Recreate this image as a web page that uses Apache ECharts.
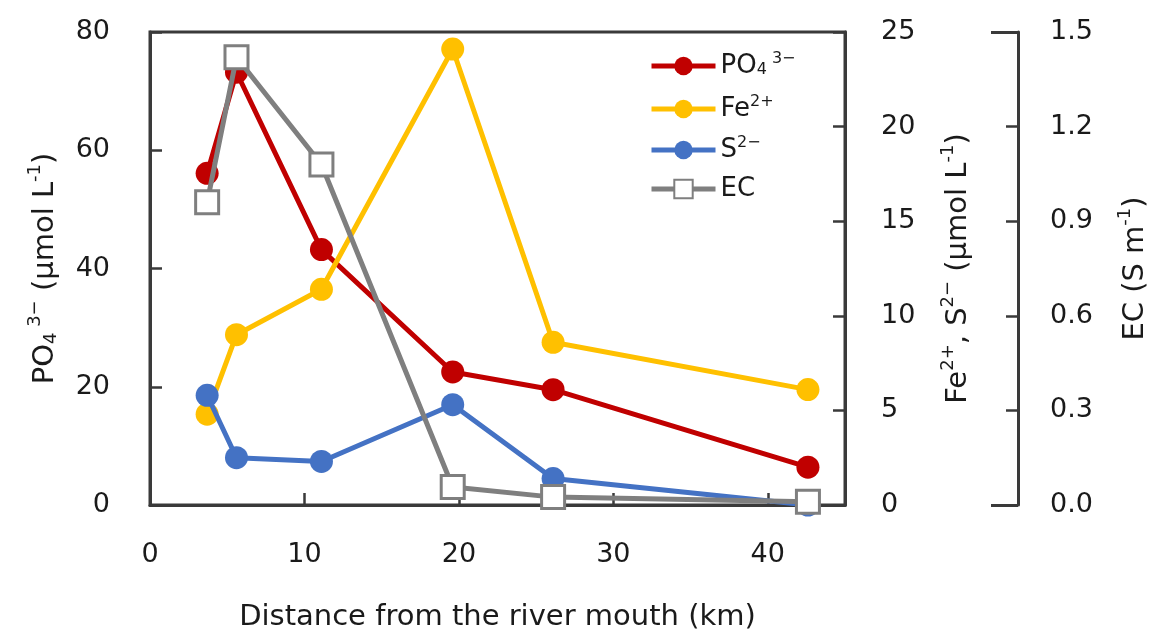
<!DOCTYPE html>
<html><head><meta charset="utf-8">
<script src="https://cdn.jsdelivr.net/npm/echarts@6/dist/echarts.min.js"></script>
<style>html,body{margin:0;padding:0;background:#fff}#c{width:1158px;height:635px}</style>
</head><body><div id="c"></div>
<script>
// Data
const distanceKm = [3.7, 5.6, 11.1, 19.6, 26.1, 42.6];
const po4 = [56.1, 73.2, 43.2, 22.5, 19.5, 6.4];        // µmol/L, left axis
const fe2 = [4.8, 9.0, 11.4, 24.1, 8.6, 6.1];           // µmol/L, right axis
const s2 = [5.8, 2.5, 2.3, 5.3, 1.4, 0.0];              // µmol/L, right axis
const ec = [0.96, 1.42, 1.08, 0.057, 0.025, 0.01];      // S/m, far right axis
const xTickLabels = [0, 10, 20, 30, 40];
const seriesNames = ['PO4', 'Fe', 'S', 'EC'];

const FONT = 'DejaVu Sans';
const TXT = '#1a1a1a';
const AX = '#3a3a3a';
const pair = arr => distanceKm.map((d, i) => [d, arr[i]]);

const richName = {
  b: {fontFamily: FONT, fontSize: 29, color: TXT, lineHeight: 38, verticalAlign: 'middle'},
  sup: {fontFamily: FONT, fontSize: 18, color: TXT, lineHeight: 38, verticalAlign: 'top'},
  sub: {fontFamily: FONT, fontSize: 18, color: TXT, lineHeight: 38, verticalAlign: 'bottom', padding: [0, 0, 4, 0]}
};
const richLegend = {
  b: {fontFamily: FONT, fontSize: 26, color: TXT, lineHeight: 30, verticalAlign: 'middle'},
  sup: {fontFamily: FONT, fontSize: 16, color: TXT, lineHeight: 30, verticalAlign: 'top'},
  sub: {fontFamily: FONT, fontSize: 16, color: TXT, lineHeight: 30, verticalAlign: 'bottom', padding: [0, 0, 3, 0]}
};
const legendLabels = {
  PO4: '{b|PO}{sub|4}{sup| 3−}',
  Fe: '{b|Fe}{sup|2+}',
  S: '{b|S}{sup|2−}',
  EC: '{b|EC}'
};

const chart = echarts.init(document.getElementById('c'));
const tickStyle = {show: true, inside: true, length: 12, lineStyle: {color: AX, width: 2.5}};
const lineAx = {show: true, lineStyle: {color: AX, width: 3}};
const lbl = (margin, fmt) => ({show: true, margin, fontFamily: FONT, fontSize: 27, color: TXT, formatter: fmt});

chart.setOption({
  animation: false,
  backgroundColor: '#fff',
  grid: {left: 150, right: 313, top: 32, bottom: 130, show: true, borderColor: AX, borderWidth: 3,
         containLabel: false, outerBoundsMode: 'none'},
  legend: {
    orient: 'vertical', left: 644, top: 46,
    itemWidth: 64, itemHeight: 23, itemGap: 13,
    data: seriesNames,
    formatter: n => legendLabels[n],
    lineStyle: {width: 5},
    textStyle: {fontFamily: FONT, fontSize: 26, color: TXT, rich: richLegend}
  },
  xAxis: {
    type: 'value', min: 0, max: 45,
    name: 'Distance from the river mouth (km)', nameLocation: 'middle', nameGap: 98,
    nameTextStyle: {fontFamily: FONT, fontSize: 29, color: TXT},
    axisLine: lineAx,
    axisTick: Object.assign({}, tickStyle, {customValues: [10, 20, 30, 40]}),
    axisLabel: Object.assign(lbl(36), {customValues: xTickLabels}),
    splitLine: {show: false}
  },
  yAxis: [
    {
      type: 'value', min: 0, max: 80, interval: 20, position: 'left',
      name: '{b|PO}{sub|4}{sup| 3−}{b| (μmol L}{sup|-1}{b|)}', nameLocation: 'middle', nameGap: 86, nameRotate: 90,
      nameTextStyle: {rich: richName},
      axisLine: lineAx, axisTick: tickStyle, axisLabel: lbl(40), splitLine: {show: false}
    },
    {
      type: 'value', min: 0, max: 25, interval: 5, position: 'right',
      name: '{b|Fe}{sup|2+}{b|, S}{sup|2−}{b| (μmol L}{sup|-1}{b|)}', nameLocation: 'middle', nameGap: 94, nameRotate: 90,
      nameTextStyle: {rich: richName},
      axisLine: lineAx, axisTick: tickStyle, axisLabel: lbl(36), splitLine: {show: false}
    },
    {
      type: 'value', min: 0, max: 1.5, interval: 0.3, position: 'right', offset: 173,
      name: '{b|EC (S m}{sup|-1}{b|)}', nameLocation: 'middle', nameGap: 98, nameRotate: 90,
      nameTextStyle: {rich: richName},
      axisLine: lineAx, axisTick: tickStyle, axisLabel: lbl(32, v => v.toFixed(1)), splitLine: {show: false}
    },
    {
      type: 'value', min: 0, max: 1.5, position: 'right', offset: 173,
      axisLine: {show: false}, axisLabel: {show: false}, splitLine: {show: false},
      axisTick: {show: true, inside: true, length: 27, customValues: [0, 1.5], lineStyle: {color: AX, width: 3}}
    }
  ],
  series: [
    {name: 'PO4', type: 'line', yAxisIndex: 0, data: pair(po4), symbol: 'circle', symbolSize: 23,
     lineStyle: {color: '#C00000', width: 5}, itemStyle: {color: '#C00000'}, z: 2},
    {name: 'Fe', type: 'line', yAxisIndex: 1, data: pair(fe2), symbol: 'circle', symbolSize: 23,
     lineStyle: {color: '#FFC000', width: 5}, itemStyle: {color: '#FFC000'}, z: 3},
    {name: 'S', type: 'line', yAxisIndex: 1, data: pair(s2), symbol: 'circle', symbolSize: 23,
     lineStyle: {color: '#4472C4', width: 5}, itemStyle: {color: '#4472C4'}, z: 4},
    {name: 'EC', type: 'line', yAxisIndex: 2, data: pair(ec), symbol: 'rect', symbolSize: 23,
     lineStyle: {color: '#7F7F7F', width: 5}, itemStyle: {color: '#ffffff', borderColor: '#7F7F7F', borderWidth: 3}, z: 5}
  ]
});
</script></body></html>
